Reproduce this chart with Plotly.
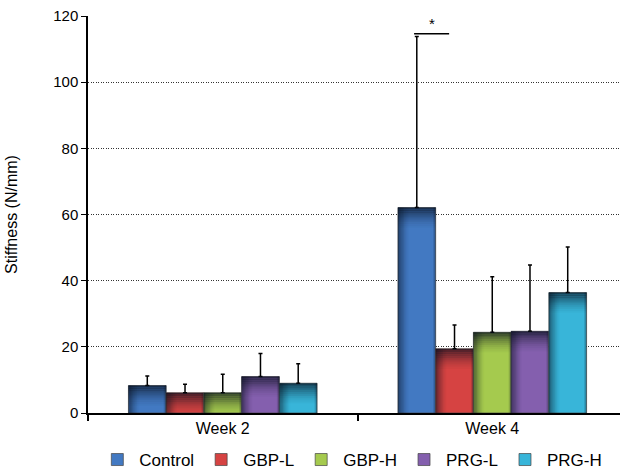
import plotly.graph_objects as go

weeks = ["Week 2", "Week 4"]
groups = ["Control", "GBP-L", "GBP-H", "PRG-L", "PRG-H"]
colors = ["#4279C2", "#D64342", "#A5CA4E", "#845FAE", "#38B5D9"]
control = [8.3, 62.1]
gbp_l = [6.1, 19.4]
gbp_h = [6.1, 24.4]
prg_l = [11.0, 24.7]
prg_h = [9.0, 36.4]
control_err = [2.9, 51.7]
gbp_l_err = [2.6, 7.2]
gbp_h_err = [5.6, 16.8]
prg_l_err = [7.0, 20.0]
prg_h_err = [5.9, 13.8]
y_ticks = [0, 20, 40, 60, 80, 100, 120]
sig_label = "*"
sig_level = 114.6

values = [control, gbp_l, gbp_h, prg_l, prg_h]
errors = [control_err, gbp_l_err, gbp_h_err, prg_l_err, prg_h_err]

n = len(groups)
group_width = 0.70
bw = group_width / n
shade = "rgba(8,16,30,{a})"
top_alphas = [0.72, 0.62, 0.53, 0.44, 0.36, 0.28, 0.21, 0.15, 0.10, 0.06, 0.03]
top_step = 0.55
left_alphas = [0.55, 0.46, 0.38, 0.30, 0.23, 0.16, 0.10, 0.05, 0.02]
left_step = 0.0045
right_alphas = [0.35, 0.15]

fig = go.Figure()
for i, (name, vals, errs, col) in enumerate(zip(groups, values, errors, colors)):
    off = -group_width / 2 + i * bw
    fig.add_trace(go.Bar(
        x=weeks, y=vals, name=name, offset=off, width=bw,
        marker=dict(color=col, line=dict(color="rgba(70,70,70,0.7)", width=1)),
        error_y=dict(type="data", symmetric=False, array=errs,
                     arrayminus=[0] * len(errs), color="black",
                     thickness=1.5, width=2),
    ))
    # dark gradient along the top of each bar
    for k, a in enumerate(top_alphas):
        bases = [max(0.0, v - (k + 1) * top_step) for v in vals]
        hts = [max(0.0, v - k * top_step) - b for v, b in zip(vals, bases)]
        fig.add_trace(go.Bar(
            x=weeks, y=hts, base=bases, offset=off, width=bw, showlegend=False,
            hoverinfo="skip", marker=dict(color=shade.format(a=a), line=dict(width=0)),
        ))
    # dark gradient along the left edge of each bar
    for k, a in enumerate(left_alphas):
        fig.add_trace(go.Bar(
            x=weeks, y=vals, offset=off + k * left_step, width=left_step,
            showlegend=False, hoverinfo="skip",
            marker=dict(color=shade.format(a=a), line=dict(width=0)),
        ))
    # slight darkening along the right edge
    for k, a in enumerate(right_alphas):
        fig.add_trace(go.Bar(
            x=weeks, y=vals, offset=off + bw - (k + 1) * left_step, width=left_step,
            showlegend=False, hoverinfo="skip",
            marker=dict(color=shade.format(a=a), line=dict(width=0)),
        ))

c0 = 1 - group_width / 2 + bw * 0.5
c1 = c0 + bw
fig.add_shape(type="line", xref="x", yref="y", x0=c0 - 0.01, x1=c1 - 0.02,
              y0=sig_level, y1=sig_level, line=dict(color="black", width=1.5))
fig.add_annotation(x=(c0 + c1) / 2 - 0.015, y=sig_level, text=sig_label,
                   showarrow=False, yshift=10, font=dict(size=15, color="black"))

fig.update_layout(
    width=623, height=472,
    margin=dict(l=88, r=3, t=16, b=59, autoexpand=False),
    paper_bgcolor="white", plot_bgcolor="white",
    barmode="overlay",
    font=dict(family="Liberation Sans, Arial, sans-serif", size=15, color="black"),
    showlegend=True,
    legend=dict(orientation="h", x=0.495, xanchor="center", y=-0.073, yanchor="top",
                font=dict(size=17), itemwidth=34, tracegroupgap=0),
)
fig.update_xaxes(range=[-0.5, 1.474], showline=True, linecolor="black", linewidth=2,
                 ticks="outside", tickson="boundaries", ticklen=6, tickcolor="black",
                 tickwidth=1.5, showgrid=False, tickfont=dict(size=16))
fig.update_yaxes(range=[0, 120], tickvals=y_ticks, showline=True, linecolor="black",
                 linewidth=1.5, ticks="outside", ticklen=5, tickcolor="black",
                 showgrid=True, gridcolor="#333333", griddash="1px,1.5px", gridwidth=1,
                 zeroline=False, title=dict(text="Stiffness (N/mm)", font=dict(size=16), standoff=32),
                 tickfont=dict(size=15))

fig.write_html("out.html", config={"displayModeBar": False},
               post_script="document.body.style.margin='0';")
